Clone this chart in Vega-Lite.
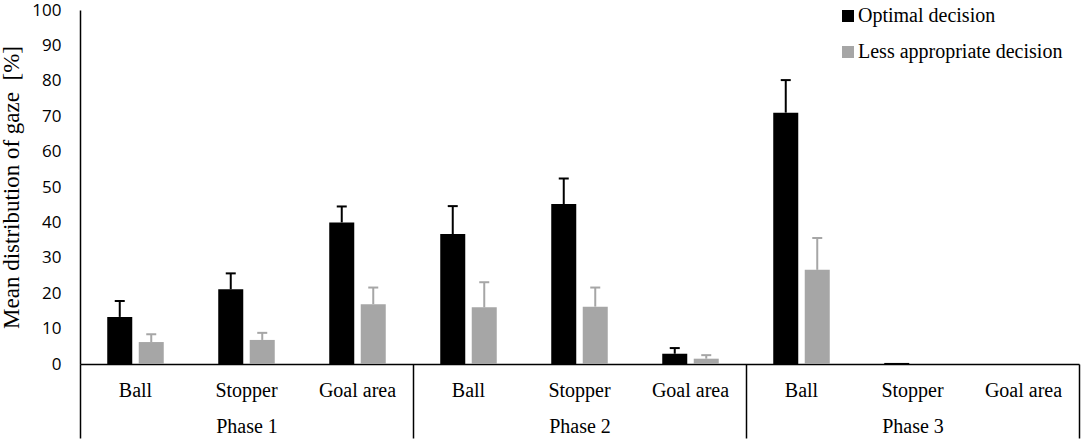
{
  "$schema": "https://vega.github.io/schema/vega-lite/v6.json",
  "autosize": "none",
  "width": 999,
  "height": 354,
  "padding": {"left": 80, "top": 10, "right": 5, "bottom": 76},
  "background": "white",
  "config": {
    "view": {"stroke": null},
    "font": "Liberation Serif",
    "axisY": {
      "title": "Mean distribution of gaze \u00a0[%]",
      "titleFont": "Liberation Serif", "titleFontSize": 23, "titleFontWeight": "normal",
      "titleColor": "black", "titlePadding": 8,
      "tickCount": 10, "labelOverlap": false,
      "grid": false, "ticks": false,
      "labelFont": "Open Sans", "labelFontSize": 17, "labelColor": "black",
      "labelPadding": 19, "domainColor": "black", "domainWidth": 1.5
    }
  },
  "data": {
    "values": [
      {"phase": "Phase 1", "key": "Phase 1|Ball", "series": "Optimal decision", "value": 13.3, "upper": 17.8},
      {"phase": "Phase 1", "key": "Phase 1|Ball", "series": "Less appropriate decision", "value": 6.2, "upper": 8.4},
      {"phase": "Phase 1", "key": "Phase 1|Stopper", "series": "Optimal decision", "value": 21.1, "upper": 25.6},
      {"phase": "Phase 1", "key": "Phase 1|Stopper", "series": "Less appropriate decision", "value": 6.8, "upper": 8.8},
      {"phase": "Phase 1", "key": "Phase 1|Goal area", "series": "Optimal decision", "value": 40.0, "upper": 44.5},
      {"phase": "Phase 1", "key": "Phase 1|Goal area", "series": "Less appropriate decision", "value": 16.9, "upper": 21.6},
      {"phase": "Phase 2", "key": "Phase 2|Ball", "series": "Optimal decision", "value": 36.7, "upper": 44.6},
      {"phase": "Phase 2", "key": "Phase 2|Ball", "series": "Less appropriate decision", "value": 16.0, "upper": 23.1},
      {"phase": "Phase 2", "key": "Phase 2|Stopper", "series": "Optimal decision", "value": 45.2, "upper": 52.4},
      {"phase": "Phase 2", "key": "Phase 2|Stopper", "series": "Less appropriate decision", "value": 16.2, "upper": 21.6},
      {"phase": "Phase 2", "key": "Phase 2|Goal area", "series": "Optimal decision", "value": 2.9, "upper": 4.5},
      {"phase": "Phase 2", "key": "Phase 2|Goal area", "series": "Less appropriate decision", "value": 1.5, "upper": 2.5},
      {"phase": "Phase 3", "key": "Phase 3|Ball", "series": "Optimal decision", "value": 71.0, "upper": 80.2},
      {"phase": "Phase 3", "key": "Phase 3|Ball", "series": "Less appropriate decision", "value": 26.6, "upper": 35.6},
      {"phase": "Phase 3", "key": "Phase 3|Stopper", "series": "Optimal decision", "value": 0.3, "upper": null},
      {"phase": "Phase 3", "key": "Phase 3|Stopper", "series": "Less appropriate decision", "value": 0, "upper": null},
      {"phase": "Phase 3", "key": "Phase 3|Goal area", "series": "Optimal decision", "value": 0, "upper": null},
      {"phase": "Phase 3", "key": "Phase 3|Goal area", "series": "Less appropriate decision", "value": 0, "upper": null}
    ]
  },
  "layer": [
    {
      "encoding": {
        "x": {
          "field": "key", "type": "nominal",
          "scale": {
            "domain": ["Phase 1|Ball", "Phase 1|Stopper", "Phase 1|Goal area",
                       "Phase 2|Ball", "Phase 2|Stopper", "Phase 2|Goal area",
                       "Phase 3|Ball", "Phase 3|Stopper", "Phase 3|Goal area"],
            "paddingInner": 0, "paddingOuter": 0
          },
          "axis": {
            "title": null, "orient": "bottom", "labelAngle": 0, "ticks": false,
            "labelExpr": "split(datum.label, '|')[1]",
            "labelFont": "Liberation Serif", "labelFontSize": 20, "labelColor": "black",
            "labelPadding": 16, "domainColor": "black", "domainWidth": 1.5
          }
        },
        "xOffset": {
          "field": "series", "type": "nominal",
          "scale": {"domain": ["Optimal decision", "Less appropriate decision"], "paddingInner": 0.206, "paddingOuter": 0.865}
        },
        "color": {
          "field": "series", "type": "nominal",
          "scale": {"domain": ["Optimal decision", "Less appropriate decision"], "range": ["#000000", "#a6a6a6"]},
          "legend": {
            "title": null, "orient": "none", "legendX": 758, "legendY": -4,
            "symbolType": "square", "symbolSize": 144, "symbolStrokeWidth": 0,
            "labelFont": "Liberation Serif", "labelFontSize": 20, "labelColor": "black",
            "labelOffset": 0, "rowPadding": 16, "labelLimit": 400
          }
        }
      },
      "layer": [
        {
          "mark": {"type": "bar"},
          "encoding": {
            "y": {
              "field": "value", "type": "quantitative",
              "scale": {"domain": [0, 100], "nice": false},
              "title": "Mean distribution of gaze \u00a0[%]"
            }
          }
        },
        {
          "transform": [{"filter": "isValid(datum.upper)"}],
          "mark": {"type": "rule", "strokeWidth": 2},
          "encoding": {
            "y": {"field": "value", "type": "quantitative", "title": "Mean distribution of gaze \u00a0[%]"},
            "y2": {"field": "upper"}
          }
        },
        {
          "transform": [{"filter": "isValid(datum.upper)"}],
          "mark": {"type": "tick", "thickness": 2, "size": 10, "opacity": 1},
          "encoding": {
            "y": {"field": "upper", "type": "quantitative", "title": "Mean distribution of gaze \u00a0[%]"}
          }
        }
      ]
    },
    {
      "mark": {"type": "bar", "opacity": 0},
      "encoding": {
        "x": {
          "field": "phase", "type": "nominal",
          "scale": {"domain": ["Phase 1", "Phase 2", "Phase 3"], "paddingInner": 0, "paddingOuter": 0},
          "axis": {
            "title": null, "orient": "bottom", "labelAngle": 0, "domain": false,
            "ticks": true, "tickBand": "extent", "tickSize": 74, "tickWidth": 1.5, "tickColor": "black",
            "labelFont": "Liberation Serif", "labelFontSize": 20, "labelColor": "black",
            "labelPadding": -22
          }
        }
      }
    }
  ],
  "resolve": {"scale": {"x": "independent"}, "axis": {"x": "independent"}}
}
